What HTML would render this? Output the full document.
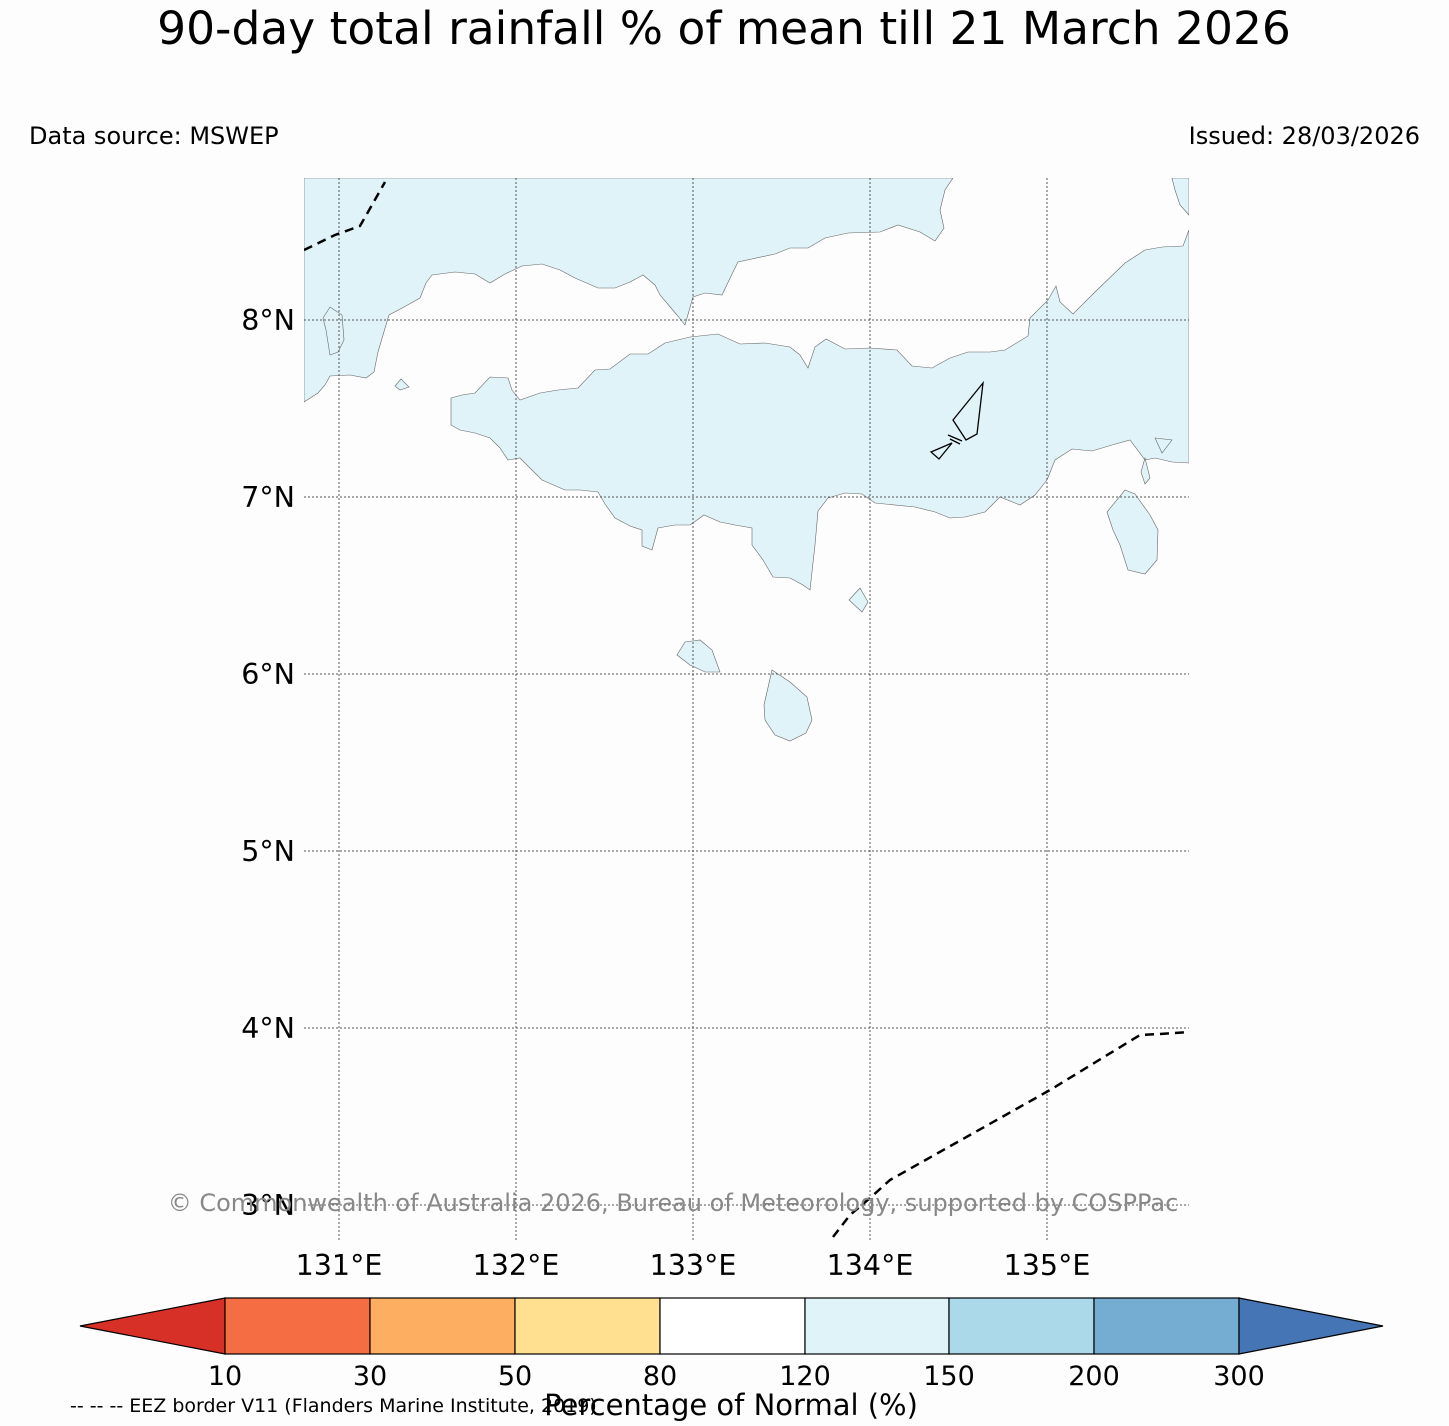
<!DOCTYPE html>
<html><head><meta charset="utf-8"><style>
body{margin:0;background:#fdfdfe;}
svg{display:block;font-family:"DejaVu Sans","Liberation Sans",sans-serif;}
</style></head><body>
<svg width="1449" height="1426" viewBox="0 0 1449 1426">
<rect width="1449" height="1426" fill="#fdfdfe"/>
<text x="724" y="44" font-size="45.5" text-anchor="middle" fill="#000">90-day total rainfall % of mean till 21 March 2026</text>
<text x="29" y="144" font-size="24" fill="#000">Data source: MSWEP</text>
<text x="1420" y="144" font-size="24" text-anchor="end" fill="#000">Issued: 28/03/2026</text>
<defs><clipPath id="mapclip"><rect x="304" y="178" width="885" height="1062"/></clipPath></defs>
<g clip-path="url(#mapclip)">
<g fill="#e0f3f8" stroke="#666" stroke-width="0.6">
<polygon points="304,178 953,178 945,190 940,210 944,228 935,241 920,232 898,225 880,232 848,233 825,238 808,248 790,248 775,254 738,262 733,272 722,295 705,293 693,297 685,325 677,315 660,295 655,285 643,275 630,282 615,288 598,288 575,278 560,270 542,264 522,266 505,274 490,283 475,274 455,272 432,275 426,283 420,298 404,307 389,315 383,335 378,352 374,372 366,378 350,375 330,376 325,385 318,393 304,402"/>
<polygon points="323,318 330,307 342,315 344,340 338,352 330,355 326,330"/>
<polygon points="395,386 401,379 409,387 400,390"/>
<polygon points="1172,178 1189,178 1189,215 1180,205 1175,190"/>
<polygon points="451,398 462,395 475,393 490,377 508,378 512,390 520,400 540,393 558,390 578,388 595,370 610,369 630,354 648,354 665,343 690,337 718,334 740,344 765,343 790,347 800,355 808,368 815,347 826,339 845,349 870,348 897,350 912,366 932,368 950,358 968,352 990,352 1005,350 1028,336 1030,318 1048,300 1056,286 1060,302 1073,314 1095,292 1125,263 1145,250 1162,247 1183,246 1189,230 1189,463 1172,462 1155,458 1145,460 1130,440 1112,445 1092,451 1072,449 1055,460 1047,480 1035,495 1020,505 1000,497 985,512 965,517 950,518 935,512 915,507 875,503 862,494 845,493 828,498 818,511 815,545 810,590 803,585 790,578 773,577 763,560 752,545 752,528 735,525 720,522 704,515 690,525 675,525 658,528 652,550 642,546 642,530 630,526 615,518 605,504 598,492 580,490 565,490 542,480 528,466 520,458 508,460 500,448 490,438 475,433 460,430 451,425"/>
<polygon points="1155,438 1172,440 1162,453"/>
<polygon points="1141,472 1145,458 1150,478 1145,484"/>
<polygon points="1107,512 1125,490 1135,494 1150,515 1158,530 1157,560 1145,574 1128,570 1120,545 1113,530"/>
<polygon points="849,600 860,588 868,602 862,612"/>
<polygon points="677,655 685,642 700,640 712,650 720,672 705,672 690,665"/>
<polygon points="764,705 772,670 790,682 807,697 812,720 806,733 790,741 775,735 765,720"/>
</g>
<g fill="none" stroke="#000" stroke-width="1.3">
<polygon points="983,383 953,420 966,440 977,434"/>
<line x1="948" y1="435" x2="962" y2="441"/><line x1="950" y1="439" x2="960" y2="444"/>
<polygon points="931,452 952,443 939,459"/>
</g>
<g stroke="#555" stroke-width="1" stroke-dasharray="2,2">
<line x1="339" y1="178" x2="339" y2="1240"/><line x1="516" y1="178" x2="516" y2="1240"/><line x1="693" y1="178" x2="693" y2="1240"/><line x1="870" y1="178" x2="870" y2="1240"/><line x1="1047" y1="178" x2="1047" y2="1240"/>
<line x1="304" y1="320" x2="1189" y2="320"/><line x1="304" y1="497" x2="1189" y2="497"/><line x1="304" y1="674" x2="1189" y2="674"/><line x1="304" y1="851" x2="1189" y2="851"/><line x1="304" y1="1028" x2="1189" y2="1028"/><line x1="304" y1="1205" x2="1189" y2="1205"/>
</g>
<g fill="none" stroke="#000" stroke-width="2.5" stroke-dasharray="9,6">
<polyline points="304,250 335,235 360,226 372,205 385,182"/>
<polyline points="833,1237 850,1215 870,1198 890,1180 1050,1090 1140,1035 1160,1034 1189,1032"/>
</g>
</g>
<g font-size="28.5" fill="#000">
<text x="295" y="330" text-anchor="end">8°N</text><text x="295" y="507" text-anchor="end">7°N</text><text x="295" y="684" text-anchor="end">6°N</text><text x="295" y="861" text-anchor="end">5°N</text><text x="295" y="1038" text-anchor="end">4°N</text><text x="295" y="1215" text-anchor="end">3°N</text>
</g>
<g font-size="28.5" fill="#000" text-anchor="middle">
<text x="339" y="1275">131°E</text><text x="516" y="1275">132°E</text><text x="693" y="1275">133°E</text><text x="870" y="1275">134°E</text><text x="1047" y="1275">135°E</text>
</g>
<text x="673" y="1211" font-size="24" fill="#888" text-anchor="middle">© Commonwealth of Australia 2026, Bureau of Meteorology, supported by COSPPac</text>
<g stroke="#000" stroke-width="1.2">
<polygon points="80,1326 225,1298 225,1354" fill="#d73027"/>
<rect x="225" y="1298" width="145" height="56" fill="#f46d43"/>
<rect x="370" y="1298" width="145" height="56" fill="#fdae61"/>
<rect x="515" y="1298" width="145" height="56" fill="#fee090"/>
<rect x="660" y="1298" width="145" height="56" fill="#ffffff"/>
<rect x="805" y="1298" width="144" height="56" fill="#e0f3f8"/>
<rect x="949" y="1298" width="145" height="56" fill="#abd9e9"/>
<rect x="1094" y="1298" width="145" height="56" fill="#74add1"/>
<polygon points="1239,1298 1383,1326 1239,1354" fill="#4575b4"/>
</g>
<g font-size="27" fill="#000" text-anchor="middle">
<text x="225" y="1385">10</text><text x="370" y="1385">30</text><text x="515" y="1385">50</text><text x="660" y="1385">80</text><text x="805" y="1385">120</text><text x="949" y="1385">150</text><text x="1094" y="1385">200</text><text x="1239" y="1385">300</text>
</g>
<text x="731" y="1415" font-size="29" text-anchor="middle" fill="#000">Percentage of Normal (%)</text>
<text x="70" y="1412" font-size="19" fill="#000">-- -- -- EEZ border V11 (Flanders Marine Institute, 2019)</text>
</svg>
</body></html>
